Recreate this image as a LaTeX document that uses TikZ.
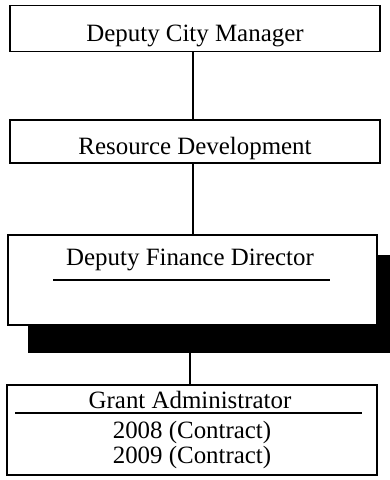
\documentclass[tikz,border=0pt]{standalone}
\usepackage{fontspec}
\setmainfont{Liberation Serif}
\begin{document}
\begin{tikzpicture}[x=1bp,y=-1bp,
  box/.style={draw=black,line width=1.6bp,fill=white,inner sep=0pt},
  lbl/.style={font=\fontsize{25}{27}\selectfont,inner sep=0pt,anchor=base},
  conn/.style={line width=1.6bp}]
\useasboundingbox (0,0) rectangle (389,480);
% boxes
\node[box,minimum width=370bp,minimum height=46bp] (b1) at (195,28.5) {};
\node[lbl] at (195,42) {Deputy City Manager};
\node[box,minimum width=370bp,minimum height=43bp] (b2) at (195,141.5) {};
\node[lbl] at (195,155) {Resource Development};
% shadow
\node[fill=black,inner sep=0pt,minimum width=369bp,minimum height=98bp] (sh) at (212.5,304) {};
\node[box,minimum width=369bp,minimum height=90bp] (b3) at (192.5,280) {};
\node[lbl] (t3) at (190,265) {Deputy Finance Director};
\coordinate (u1) at (53,280);
\coordinate (u2) at (330,280);
\draw[conn] (u1) -- (u2);
\node[box,minimum width=370bp,minimum height=90bp] (b4) at (192,430) {};
\node[lbl] (t4) at (190,408) {Grant Administrator};
\coordinate (d1) at (15,413);
\coordinate (d2) at (362,413);
\draw[conn] (d1) -- (d2);
\node[lbl] (t5) at (192,438) {2008 (Contract)};
\node[lbl] (t6) at (192,463) {2009 (Contract)};
% connectors
\coordinate (c1) at (193,0);
\draw[conn] (b1.south -| c1) -- (b2.north -| c1);
\draw[conn] (b2.south -| c1) -- (b3.north -| c1);
\coordinate (c2) at (190,0);
\draw[conn] (sh.south -| c2) -- (b4.north -| c2);
\end{tikzpicture}
\end{document}
